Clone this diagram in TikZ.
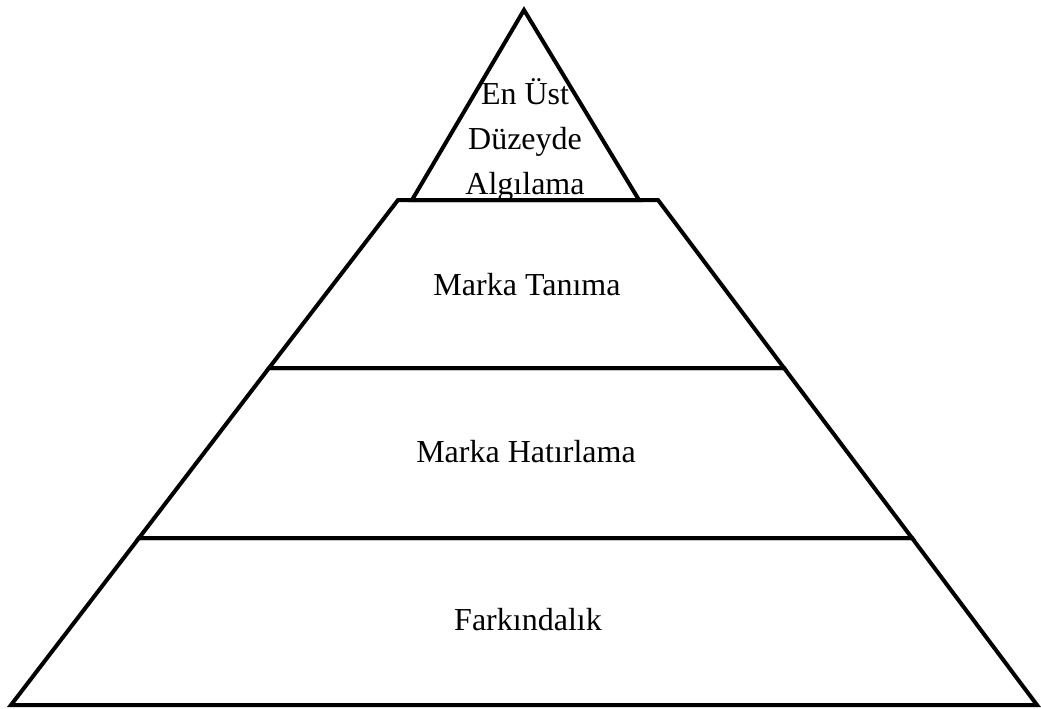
\documentclass[tikz,border=0pt]{standalone}
\usepackage{fontspec}
\setmainfont{Liberation Serif}
\begin{document}
\begin{tikzpicture}[x=0.75pt,y=-0.75pt,line width=3pt,
  label text/.style={font=\fontsize{24}{33.75}\selectfont, inner sep=0pt, align=center}]
\useasboundingbox (0,0) rectangle (1041,708);
% corners of the pyramid
\coordinate (T) at (524,10);
\coordinate (A1) at (412,200);
\coordinate (B1) at (639,200);
\coordinate (L1) at (398,200);
\coordinate (R1) at (658,200);
\coordinate (L2) at (269,368);
\coordinate (R2) at (784,368);
\coordinate (L3) at (139,538);
\coordinate (R3) at (912,538);
\coordinate (L4) at (11,705);
\coordinate (R4) at (1037,705);
% top triangle
\draw (T) -- (A1) -- (B1) -- cycle;
% levels below
\draw (L1) -- (R1) -- (R2) -- (L2) -- cycle;
\draw (L2) -- (R2) -- (R3) -- (L3) -- cycle;
\draw (L3) -- (R3) -- (R4) -- (L4) -- cycle;
% texts
\node [label text] (top) at (525,140) {En Üst\\Düzeyde\\Algılama};
\node [label text, anchor=base] (tanima) at (527,295) {Marka Tanıma};
\node [label text, anchor=base] (hatirlama) at (526,462) {Marka Hatırlama};
\node [label text, anchor=base] (farkindalik) at (528,630) {Farkındalık};
\end{tikzpicture}
\end{document}
